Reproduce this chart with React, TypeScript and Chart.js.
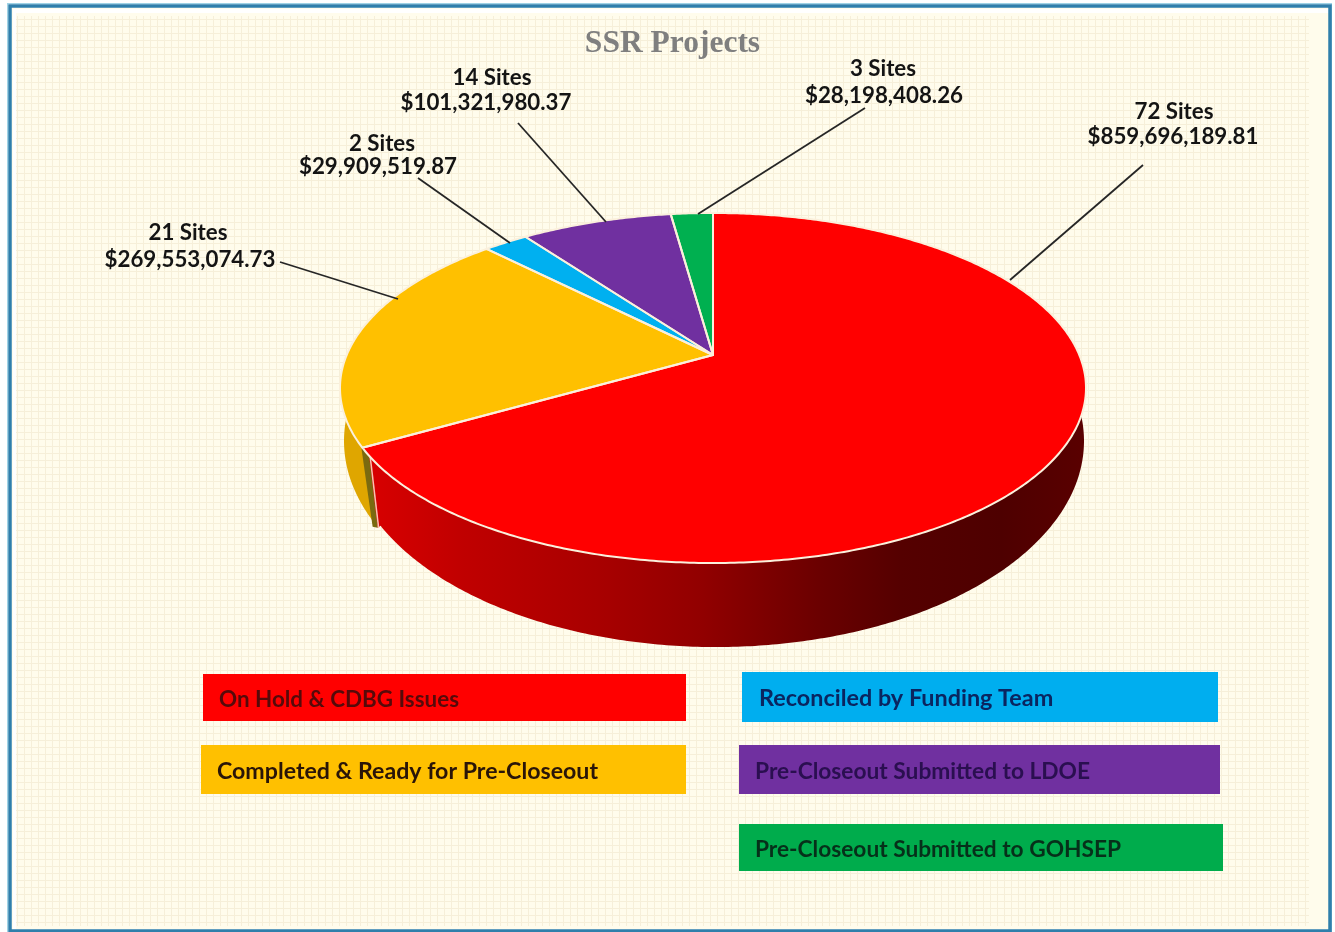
import React, { useEffect, useRef } from "react";
import { Chart, registerables } from "chart.js";

Chart.register(...registerables);

const categories = [
  "On Hold & CDBG Issues",
  "Completed & Ready for Pre-Closeout",
  "Reconciled by Funding Team",
  "Pre-Closeout Submitted to LDOE",
  "Pre-Closeout Submitted to GOHSEP",
];
const dollarValues = [859696189.81, 269553074.73, 29909519.87, 101321980.37, 28198408.26];
const siteCounts = [72, 21, 2, 14, 3];
const sliceColors = ["#FF0000", "#FFC000", "#00B0F0", "#7030A0", "#00B050"];
const titleText = "SSR Projects";

// Layout only (no data)
const FONT = "Lato, 'Open Sans', sans-serif";
const labelLayout = [
  { sites: [1174, 112], money: [1173, 137], line: [1143, 165, 1010, 280] },
  { sites: [188, 233], money: [190, 260], line: [280, 262, 398, 299] },
  { sites: [382, 144], money: [378, 167], line: [418, 178, 510, 243] },
  { sites: [492, 78], money: [486, 103], line: [518, 123, 606, 222] },
  { sites: [883, 69], money: [884, 96], line: [865, 108, 698, 214] },
];
const legendLayout = [
  { box: [203, 674, 483, 47], tx: 219, ty: 699, tw: 240, fill: "#FF0000", ink: "#560A0A" },
  { box: [201, 745, 485, 49], tx: 217, ty: 771, tw: 381, fill: "#FFC000", ink: "#2A1508" },
  { box: [742, 672, 476, 50], tx: 759, ty: 698, tw: 295, fill: "#00AEEF", ink: "#0A2560" },
  { box: [739, 745, 481, 49], tx: 755, ty: 771, tw: 335, fill: "#7030A0", ink: "#2A0F50" },
  { box: [739, 824, 484, 47], tx: 755, ty: 849, tw: 366, fill: "#00AC4C", ink: "#06301A" },
];

// Perspective projection of the pie's unit disc
const P = { x0: 713, y0: 355, A: 366.3, B: 168.8, a: -0.1886 };
const top = (ang: number) => {
  const u = Math.cos(ang), v = Math.sin(ang), w = 1 + P.a * v;
  return [P.x0 + (P.A * u) / w, P.y0 + (P.B * v) / w];
};
const bottom = (ang: number) => {
  const [x, y] = top(ang);
  return [716 + ((x - 713) * 368) / 373, 441 + ((y - 388) * 206) / 175];
};
const arcPts = (f: (a: number) => number[], s: number, e: number) => {
  const n = Math.max(2, Math.ceil(Math.abs(e - s) / 0.01));
  const out: number[][] = [];
  for (let i = 0; i <= n; i++) out.push(f(s + ((e - s) * i) / n));
  return out;
};
const poly = (ctx: CanvasRenderingContext2D, pts: number[][]) => {
  ctx.beginPath();
  pts.forEach((p, i) => (i ? ctx.lineTo(p[0], p[1]) : ctx.moveTo(p[0], p[1])));
  ctx.closePath();
};

const paperPlugin = {
  id: "paper",
  beforeDraw(chart: any) {
    const ctx: CanvasRenderingContext2D = chart.ctx;
    const { width: W, height: H } = chart;
    ctx.save();
    ctx.fillStyle = "#FFFFFF";
    ctx.fillRect(0, 0, W, H);
    ctx.fillStyle = "#FFFCEC";
    ctx.fillRect(12, 8, 1318, 921);
    ctx.strokeStyle = "#F6EFD9";
    ctx.lineWidth = 1;
    ctx.beginPath();
    for (let x = 17.5; x < 1310; x += 7) {
      ctx.moveTo(x, 16);
      ctx.lineTo(x, 926);
    }
    for (let y = 19.5; y < 926; y += 7) {
      ctx.moveTo(16, y);
      ctx.lineTo(1309, y);
    }
    ctx.stroke();
    ctx.fillStyle = "#FFFFFF";
    ctx.fillRect(13, 9, 3, 920);
    ctx.fillRect(13, 9, 1316, 4);
    ctx.strokeStyle = "#9FD3E6";
    ctx.lineWidth = 1;
    ctx.strokeRect(7.5, 3.5, 1324, 930);
    ctx.strokeStyle = "#2F7FAB";
    ctx.lineWidth = 3.5;
    ctx.strokeRect(10, 6, 1320, 925);
    ctx.restore();
  },
};

const piePlugin = {
  id: "pie3d",
  beforeDatasetsDraw(chart: any) {
    const ctx: CanvasRenderingContext2D = chart.ctx;
    const arcs = chart.getDatasetMeta(0).data;
    ctx.save();
    ctx.lineJoin = "round";

    const am = arcs[1], rd = arcs[0];
    const seam = rd.endAngle - 0.07;
    const seamPt = bottom(seam);
    const cornerB = [seamPt[0] - 3, seamPt[1] + 2];

    // Side wall of the amber slice, then the red one
    const amberBottom = arcPts(bottom, am.endAngle, seam).map((p) => [p[0] - 4, p[1]]);
    poly(ctx, [...arcPts(top, am.startAngle, am.endAngle), ...amberBottom, cornerB]);
    ctx.fillStyle = "#DFA600";
    ctx.fill();

    const g = ctx.createLinearGradient(370, 0, 1087, 0);
    g.addColorStop(0, "#D80000");
    g.addColorStop(0.13, "#C00000");
    g.addColorStop(0.32, "#A80000");
    g.addColorStop(0.46, "#920000");
    g.addColorStop(0.63, "#6A0000");
    g.addColorStop(0.74, "#550000");
    g.addColorStop(0.88, "#4E0000");
    g.addColorStop(1, "#5A0000");
    poly(ctx, [...arcPts(top, rd.startAngle, rd.endAngle), cornerB, ...arcPts(bottom, seam, rd.startAngle)]);
    ctx.fillStyle = g;
    ctx.fill();

    const corner = top(rd.endAngle);
    poly(ctx, [
      [corner[0] - 1, corner[1]],
      [corner[0] + 6, corner[1] + 2],
      [cornerB[0], cornerB[1]],
      [cornerB[0] - 5, cornerB[1] - 1],
    ]);
    ctx.fillStyle = "#7A6A10";
    ctx.fill();
    ctx.strokeStyle = "#F6C4B0";
    ctx.lineWidth = 1.5;
    ctx.beginPath();
    ctx.moveTo(corner[0] + 7, corner[1] + 2);
    ctx.lineTo(cornerB[0] + 1, cornerB[1]);
    ctx.stroke();

    // Top faces, from the chart's own arc angles
    arcs.forEach((arc: any, i: number) => {
      const pts = [[P.x0, P.y0], ...arcPts(top, arc.startAngle, arc.endAngle)];
      poly(ctx, pts);
      ctx.fillStyle = sliceColors[i];
      ctx.fill();
    });
    arcs.forEach((arc: any) => {
      poly(ctx, [[P.x0, P.y0], ...arcPts(top, arc.startAngle, arc.endAngle)]);
      ctx.strokeStyle = "#FBF0DC";
      ctx.lineWidth = 2;
      ctx.stroke();
    });
    ctx.restore();
    return false;
  },
};

const annotationPlugin = {
  id: "annot",
  afterDraw(chart: any) {
    const ctx: CanvasRenderingContext2D = chart.ctx;
    ctx.save();
    ctx.textBaseline = "middle";
    // leader lines and data labels
    siteCounts.forEach((n, i) => {
      const l = labelLayout[i];
      ctx.strokeStyle = "#262626";
      ctx.lineWidth = 1.8;
      ctx.beginPath();
      ctx.moveTo(l.line[0], l.line[1]);
      ctx.lineTo(l.line[2], l.line[3]);
      ctx.stroke();
      ctx.fillStyle = "#141414";
      ctx.textAlign = "center";
      ctx.font = `bold 22.3px ${FONT}`;
      ctx.fillText(`${n} Sites`, l.sites[0], l.sites[1]);
      const money = "$" + dollarValues[i].toLocaleString("en-US", { minimumFractionDigits: 2, maximumFractionDigits: 2 });
      ctx.fillText(money, l.money[0], l.money[1]);
    });
    // legend boxes
    categories.forEach((c, i) => {
      const b = legendLayout[i];
      ctx.fillStyle = b.fill;
      ctx.fillRect(b.box[0], b.box[1], b.box[2], b.box[3]);
      ctx.fillStyle = b.ink;
      ctx.textAlign = "left";
      ctx.font = `bold 23.4px ${FONT}`;
      ctx.fillText(c, b.tx, b.ty, b.tw);
    });
    ctx.restore();
  },
};

export default function App() {
  const ref = useRef<HTMLCanvasElement>(null);
  useEffect(() => {
    const chart = new Chart(ref.current as HTMLCanvasElement, {
      type: "pie",
      data: {
        labels: categories,
        datasets: [{ data: dollarValues, backgroundColor: sliceColors, borderColor: "#FBF0DC" }],
      },
      plugins: [paperPlugin, piePlugin, annotationPlugin],
      options: {
        responsive: false,
        animation: false,
        layout: { padding: { left: 10 } },
        plugins: {
          legend: { display: false },
          tooltip: { enabled: false },
          title: {
            display: true,
            text: titleText,
            color: "#7F7F7F",
            font: { family: "'Liberation Serif', serif", size: 31.5, weight: "bold" },
            padding: { top: 25, bottom: 10 },
          },
        },
      },
    } as any);
    return () => chart.destroy();
  }, []);
  return (
    <div style={{ position: "fixed", left: 0, top: 0, width: 1335, height: 932, overflow: "hidden" }}>
      <canvas ref={ref} width={1335} height={932} style={{ display: "block" }} />
    </div>
  );
}
